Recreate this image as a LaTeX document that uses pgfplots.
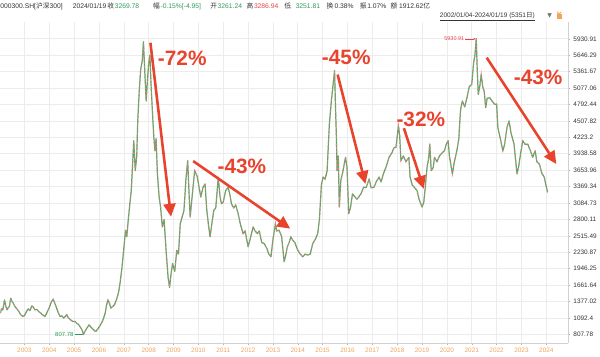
\documentclass[border=0pt]{standalone}
\usepackage{fontspec}
\setmainfont{Liberation Sans}
\newfontfamily\cjk{Noto Sans CJK SC}
\newfontfamily\dejavu{DejaVu Sans}
\usepackage{pgfplots}
\usepackage{pgfplotstable}
\pgfplotsset{compat=1.18}
\usetikzlibrary{arrows.meta}
\definecolor{upred}{HTML}{F27A82}
\definecolor{dngreen}{HTML}{4CAD66}
\definecolor{txtgreen}{HTML}{2F9A5A}
\definecolor{txtred}{HTML}{E8434B}
\definecolor{annred}{HTML}{E8432D}
\definecolor{yearor}{HTML}{F2A55C}
\definecolor{txtgray}{HTML}{333333}
\definecolor{gridc}{HTML}{ECECEC}
\pgfplotstableread{
x y
2002.03 1175
2002.08 1250
2002.13 1230
2002.20 1404
2002.25 1300
2002.30 1232
2002.40 1300
2002.45 1433
2002.50 1380
2002.55 1350
2002.62 1290
2002.70 1250
2002.78 1200
2002.85 1150
2002.93 1118
2003.00 1130
2003.08 1200
2003.15 1250
2003.22 1220
2003.30 1301
2003.36 1280
2003.42 1232
2003.50 1240
2003.58 1200
2003.65 1180
2003.72 1150
2003.83 1118
2003.90 1180
2003.98 1250
2004.05 1330
2004.10 1380
2004.16 1416
2004.22 1350
2004.28 1280
2004.35 1200
2004.43 1118
2004.50 1130
2004.58 1089
2004.65 1120
2004.70 1150
2004.76 1100
2004.85 1060
2004.95 1030
2005.03 1032
2005.10 1000
2005.18 980
2005.25 930
2005.30 900
2005.34 860
2005.38 808
2005.45 870
2005.52 920
2005.60 973
2005.68 930
2005.75 900
2005.82 870
2005.88 860
2005.95 900
2006.03 950
2006.10 1000
2006.18 1080
2006.25 1175
2006.30 1300
2006.36 1404
2006.42 1350
2006.48 1261
2006.55 1290
2006.62 1320
2006.70 1400
2006.78 1520
2006.85 1700
2006.93 1980
2007.00 2300
2007.07 2611
2007.12 2500
2007.18 2800
2007.25 3100
2007.30 3300
2007.36 3818
2007.40 4163
2007.46 3645
2007.52 3900
2007.56 4507
2007.62 5024
2007.68 5400
2007.74 5541
2007.79 5880
2007.85 5300
2007.90 4852
2007.95 5200
2008.00 5500
2008.05 5650
2008.10 5088
2008.15 4680
2008.20 4278
2008.25 3990
2008.30 4200
2008.35 3600
2008.42 3187
2008.48 3014
2008.55 2670
2008.62 2800
2008.70 2266
2008.78 1800
2008.84 1620
2008.90 1850
2008.96 2036
2009.05 1900
2009.13 2266
2009.20 2200
2009.27 2726
2009.35 2850
2009.42 2956
2009.50 3500
2009.57 3818
2009.63 3200
2009.67 2842
2009.75 3200
2009.85 3645
2009.95 3550
2010.05 3300
2010.10 3187
2010.18 3350
2010.27 3416
2010.33 3000
2010.40 2726
2010.47 2497
2010.55 2750
2010.62 2956
2010.70 3000
2010.80 3531
2010.87 3200
2010.93 3071
2011.00 3100
2011.10 3300
2011.20 3359
2011.28 3200
2011.33 3071
2011.42 3000
2011.50 3050
2011.60 2899
2011.70 2700
2011.80 2554
2011.88 2600
2012.00 2324
2012.08 2450
2012.20 2670
2012.28 2600
2012.38 2554
2012.45 2600
2012.55 2400
2012.65 2381
2012.75 2300
2012.82 2209
2012.92 2152
2013.00 2450
2013.10 2726
2013.15 2600
2013.25 2611
2013.35 2500
2013.45 2066
2013.50 2150
2013.58 2324
2013.65 2400
2013.72 2497
2013.80 2438
2013.88 2400
2014.00 2266
2014.10 2200
2014.20 2152
2014.30 2200
2014.40 2180
2014.50 2200
2014.60 2381
2014.70 2450
2014.80 2550
2014.87 2800
2014.95 3400
2015.02 3531
2015.10 3500
2015.18 3645
2015.27 4450
2015.35 4852
2015.48 5380
2015.52 4700
2015.55 4278
2015.58 3645
2015.63 3900
2015.67 3014
2015.73 3473
2015.80 3600
2015.92 3876
2015.98 3700
2016.05 2899
2016.12 3000
2016.20 3244
2016.28 3200
2016.38 3150
2016.45 3187
2016.55 3250
2016.65 3359
2016.75 3350
2016.87 3502
2016.95 3350
2017.07 3359
2017.15 3450
2017.27 3531
2017.35 3450
2017.45 3600
2017.55 3704
2017.67 3876
2017.78 3950
2017.88 4048
2017.95 4050
2018.05 4421
2018.10 4250
2018.15 3818
2018.25 3900
2018.35 3800
2018.47 3876
2018.52 3531
2018.60 3400
2018.70 3350
2018.80 3300
2018.88 3150
2019.00 3014
2019.07 3100
2019.13 3359
2019.20 3700
2019.27 3876
2019.31 4106
2019.37 3645
2019.45 3700
2019.50 3876
2019.60 3800
2019.70 3900
2019.80 3950
2019.90 3990
2019.97 4100
2020.05 4163
2020.10 3900
2020.22 3588
2020.30 3800
2020.40 3990
2020.48 4200
2020.52 4507
2020.55 4700
2020.62 4852
2020.72 4750
2020.80 4900
2020.90 5100
2021.00 5140
2021.07 5500
2021.13 5657
2021.18 5930.91
2021.22 5400
2021.26 4967
2021.32 5100
2021.38 5312
2021.44 5100
2021.50 5024
2021.56 4737
2021.62 4900
2021.72 4909
2021.82 4850
2021.92 4795
2022.00 4800
2022.05 4394
2022.15 4200
2022.25 3990
2022.32 4100
2022.42 4400
2022.50 4507
2022.58 4300
2022.70 4106
2022.82 3588
2022.88 3700
2022.95 3900
2023.05 4163
2023.15 4100
2023.25 4106
2023.35 4000
2023.45 3876
2023.55 3990
2023.62 3800
2023.72 3760
2023.82 3600
2023.92 3531
2023.98 3400
2024.05 3270
}\csi
\begin{document}
\begin{tikzpicture}
\begin{axis}[
  at={(0bp,-345bp)}, anchor=south west,
  width=571bp, height=323bp, scale only axis,
  xmin=2002.03, xmax=2024.87, ymin=658, ymax=6224,
  axis x line*=bottom, axis y line*=right,
  axis line style={draw=black!18, -},
  xtick={2003,2004,2005,2006,2007,2008,2009,2010,2011,2012,2013,2014,2015,2016,2017,2018,2019,2020,2021,2022,2023,2024},
  xticklabels={2003,2004,2005,2006,2007,2008,2009,2010,2011,2012,2013,2014,2015,2016,2017,2018,2019,2020,2021,2022,2023,2024},
  ytick={807.78,1092.4,1377.02,1661.64,1946.25,2230.87,2515.49,2800.11,3084.73,3369.34,3653.96,3938.58,4223.2,4507.82,4792.44,5077.06,5361.67,5646.29,5930.91},
  yticklabels={807.78,1092.4,1377.02,1661.64,1946.25,2230.87,2515.49,2800.11,3084.73,3369.34,3653.96,3938.58,4223.2,4507.82,4792.44,5077.06,5361.67,5646.29,5930.91},
  xticklabel style={font=\fontsize{6.5}{7}\selectfont, text=yearor},
  yticklabel style={font=\fontsize{6.5}{7}\selectfont, text=txtgray},
  grid=major, major grid style={draw=gridc, line width=0.6bp},
  tick style={draw=black!30, line width=0.4bp}, major tick length=2bp,
  tick align=outside,
]
\addplot[dngreen, line width=1.2bp, line join=round] table {\csi};
\addplot[upred, line width=1.1bp, dash pattern=on 1.2bp off 2.4bp] table {\csi};
\node[anchor=east, inner sep=0.5bp, font=\fontsize{6}{7}\selectfont, text=txtgreen] at (axis cs:2005.0,807.78) {807.78};
\draw[txtgreen, line width=0.4bp] (axis cs:2005.02,807.78) -- (axis cs:2005.34,807.78);
\node[anchor=east, inner sep=0.5bp, font=\fontsize{5.5}{6}\selectfont, text=txtred] at (axis cs:2020.72,5930.91) {5930.91};
\draw[txtred, line width=0.4bp, -{Stealth[length=2bp,width=2bp]}] (axis cs:2020.74,5930.91) -- (axis cs:2021.15,5930.91);
\end{axis}
\begin{scope}[x=1bp, y=-1bp]
\path[use as bounding box] (0,0) rectangle (600,356);
% header
\tikzset{hd/.style={anchor=base west, inner sep=0pt, font=\fontsize{6.8}{8}\selectfont, text=txtgray}}
\node[hd] at (0,8.5) {000300.SH[{\cjk 沪深}300]};
\node[hd] at (72.7,8.5) {2024/01/19};
\node[hd] at (107.5,8.5) {\cjk 收};
\node[hd, text=txtgreen] at (115,8.5) {3269.78};
\node[hd] at (153.5,8.5) {\cjk 幅};
\node[hd, text=txtgreen] at (161,8.5) {-0.15\%[-4.95]};
\node[hd] at (211,8.5) {\cjk 开};
\node[hd, text=txtgreen] at (218.5,8.5) {3261.24};
\node[hd] at (247.5,8.5) {\cjk 高};
\node[hd, text=txtred] at (255,8.5) {3286.94};
\node[hd] at (285.5,8.5) {\cjk 低};
\node[hd, text=txtgreen] at (297,8.5) {3251.81};
\node[hd] at (328,8.5) {\cjk 换};
\node[hd] at (336,8.5) {0.38\%};
\node[hd] at (361.5,8.5) {\cjk 振};
\node[hd] at (369,8.5) {1.07\%};
\node[hd] at (392.5,8.5) {\cjk 额};
\node[hd] at (401,8.5) {1912.62{\cjk 亿}};
\node[hd, font=\fontsize{6.6}{8}\selectfont] at (442,18) {\underline{2002/01/04-2024/01/19 (5351{\cjk 日})}};
\node[anchor=base west, inner sep=0pt, text=black!55, font=\dejavu\fontsize{6}{7}\selectfont] at (550,18) {▼};
% lock
\fill[yearor] (559.5,14.5) rectangle (565.5,19.5);
\draw[yearor, line width=0.8bp] (560.8,14.5) -- (560.8,12.3) arc[start angle=180, end angle=0, x radius=1.6bp, y radius=-1.6bp] -- (564,12.8);
% arrows
\tikzset{ar/.style={draw=annred, line width=2.6bp, -{Triangle[width=12bp,length=13bp]}}}
\draw[ar] (151,43) -- (171.7,218);
\draw[ar] (194,162) -- (291.7,230);
\draw[ar] (339.3,75) -- (367.3,185);
\draw[ar] (406,129) -- (426,190);
\draw[ar] (489.3,58) -- (559.3,165);
\tikzset{pc/.style={text=annred, font=\fontsize{21}{22}\bfseries\selectfont, inner sep=0pt}}
\node[pc] at (183,58.5) {-72\%};
\node[pc] at (243,167.5) {-43\%};
\node[pc] at (348,58) {-45\%};
\node[pc] at (423,120.5) {-32\%};
\node[pc] at (541,77.5) {-43\%};
\end{scope}
\end{tikzpicture}
\end{document}
